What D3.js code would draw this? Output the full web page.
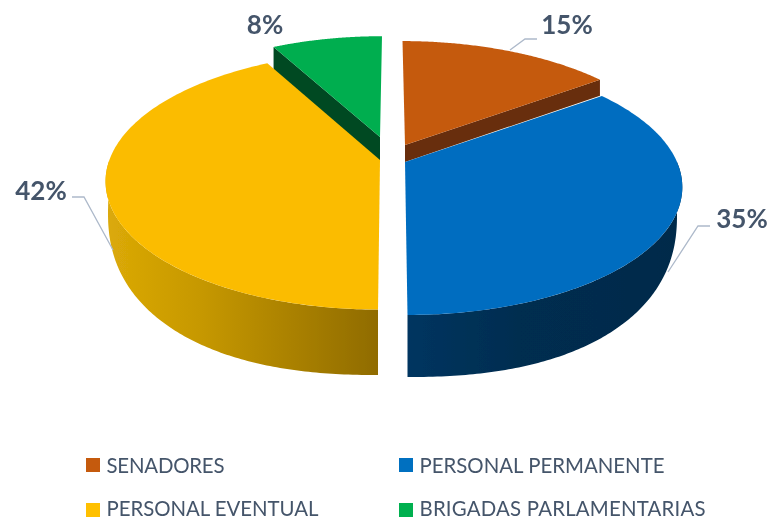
<!DOCTYPE html>
<html>
<head>
<meta charset="utf-8">
<script src="https://cdn.jsdelivr.net/npm/d3@7/dist/d3.min.js"></script>
<style>
html, body { margin: 0; padding: 0; background: #fff; }
svg { display: block; }
text { font-family: Lato, "Open Sans", sans-serif; fill: #44546a; }
.pct { font-weight: 700; font-size: 26px; }
.leg { font-size: 20.4px; }
</style>
</head>
<body>
<svg></svg>
<script>
// chart data
var categories = ["SENADORES", "PERSONAL PERMANENTE", "PERSONAL EVENTUAL", "BRIGADAS PARLAMENTARIAS"];
var values = [15, 35, 42, 8];
var faceColors = ["#c55a11", "#016dc0", "#fbbc00", "#00ae4f"];
var swatchColors = ["#c55a11", "#0070c0", "#ffc000", "#00b050"];

var width = 771, height = 520;

// projection of the tilted disc
var topB = 272, topA = 124.5;
var baseB = 272, baseA = 165, baseDrop = 50, basePow = 2 / 2.3;

// where each exploded slice has its apex, how it leans, and its size
var apexX = [405, 405, 380, 380];
var apexY = [145, 162, 160, 137];
var lean = [-2.5, -2.5, 2, 2];
var rimX = [0.99, 1, 0.995, 0.96];
var rimY = [0.99, 1, 1.01, 0.96];
var tiltK = [0.186, 0.186, 0.159, 0.186];

var svg = d3.select("svg").attr("width", width).attr("height", height);
var defs = svg.append("defs");

// source picture is a little soft
defs.append("filter").attr("id", "soft")
	.attr("filterUnits", "userSpaceOnUse")
	.attr("x", 0).attr("y", 0)
	.attr("width", width).attr("height", height)
	.append("feGaussianBlur").attr("stdDeviation", 0.45);
var root = svg.append("g").attr("filter", "url(#soft)");

function sideGradient(id, x1, x2, stops) {
	var g = defs.append("linearGradient").attr("id", id)
		.attr("gradientUnits", "userSpaceOnUse")
		.attr("x1", x1).attr("x2", x2).attr("y1", 0).attr("y2", 0);
	stops.forEach(function(s) {
		g.append("stop").attr("offset", s[0]).attr("stop-color", s[1]);
	});
}
sideGradient("sideBlue", 408, 682, [[0, "#003560"], [0.4, "#002d50"], [1, "#002b4a"]]);
sideGradient("sideYellow", 105, 380, [[0, "#dcaa08"], [0.35, "#c69800"], [1, "#8f6b00"]]);

var arcs = d3.pie().sort(null).value(function(d) { return d; })(values);
var line = d3.line().x(function(d) { return d[0]; }).y(function(d) { return d[1]; });

function topPoint(i, a) {
	var u = Math.sin(a), v = Math.cos(a), s = 1 + tiltK[i] * v;
	return [apexX[i] + rimX[i] * topB * u / s + lean[i] * v, apexY[i] - rimY[i] * topA * v / s];
}
function signedPow(n) {
	return (n < 0 ? -1 : 1) * Math.pow(Math.abs(n), basePow);
}
// bottom edge of the wall is squarer than an ellipse
function basePoint(i, a) {
	var u = Math.sin(a), v = Math.cos(a);
	return [apexX[i] + baseB * signedPow(u) + lean[i] * v, apexY[i] + baseDrop - baseA * signedPow(v)];
}
function sweep(from, to, fn, i) {
	return d3.range(0, 121).map(function(t) {
		return fn(i, from + (to - from) * t / 120);
	});
}

// flat wall along a radial edge, depth given at apex and at rim
function radialWall(i, a, inner, outer, color) {
	var p = topPoint(i, a);
	var pts = [[apexX[i], apexY[i]], p, [p[0], p[1] + outer], [apexX[i], apexY[i] + inner]];
	root.append("path").attr("d", line(pts) + "Z").attr("fill", color);
}

function face(i) {
	var pts = [[apexX[i], apexY[i]]].concat(sweep(arcs[i].startAngle, arcs[i].endAngle, topPoint, i));
	root.append("path").attr("d", line(pts) + "Z").attr("fill", faceColors[i]);
}

// only the front half of a slice shows a wall
function outerWall(i, from, to, fill) {
	var pts = sweep(from, to, topPoint, i).concat(sweep(from, to, basePoint, i).reverse());
	root.append("path").attr("d", line(pts) + "Z").attr("fill", fill);
}

// back slices first
radialWall(3, arcs[3].startAngle, 24, 24, "#004a24");
face(3);
radialWall(0, arcs[0].endAngle, 17, 16, "#682e08");
face(0);
outerWall(1, Math.PI / 2, arcs[1].endAngle, "url(#sideBlue)");
face(1);
outerWall(2, arcs[2].startAngle, Math.PI * 1.5, "url(#sideYellow)");
face(2);

// leader lines
var leaders = [
	[[510, 50], [525, 39], [537, 39]],
	[[668, 272], [698, 226], [710, 226]],
	[[113, 250], [84, 197], [72, 197]]
];
leaders.forEach(function(l) {
	root.append("path").attr("d", line(l)).attr("fill", "none")
		.attr("stroke", "#adb9ca").attr("stroke-width", 1.3);
});

// percent labels
var labelX = [567, 742, 41, 265];
var labelY = [34, 228, 200, 34];
root.selectAll(".pct").data(values).enter().append("text")
	.attr("class", "pct")
	.attr("text-anchor", "middle")
	.attr("x", function(d, i) { return labelX[i]; })
	.attr("y", function(d, i) { return labelY[i]; })
	.text(function(d) { return d + "%"; });

// legend
var legendX = [86, 399, 86, 399];
var legendY = [458, 458, 503, 503];
var legendBase = [472.5, 472.5, 516, 516];
var legendLen = [118, 245, 212, 286];
root.selectAll(".sw").data(categories).enter().append("rect")
	.attr("class", "sw")
	.attr("x", function(d, i) { return legendX[i]; })
	.attr("y", function(d, i) { return legendY[i]; })
	.attr("width", 14).attr("height", 14)
	.attr("fill", function(d, i) { return swatchColors[i]; });
root.selectAll(".leg").data(categories).enter().append("text")
	.attr("class", "leg")
	.attr("x", function(d, i) { return legendX[i] + 20.5; })
	.attr("y", function(d, i) { return legendBase[i]; })
	.attr("textLength", function(d, i) { return legendLen[i]; })
	.attr("lengthAdjust", "spacing")
	.text(function(d) { return d; });
</script>
</body>
</html>
